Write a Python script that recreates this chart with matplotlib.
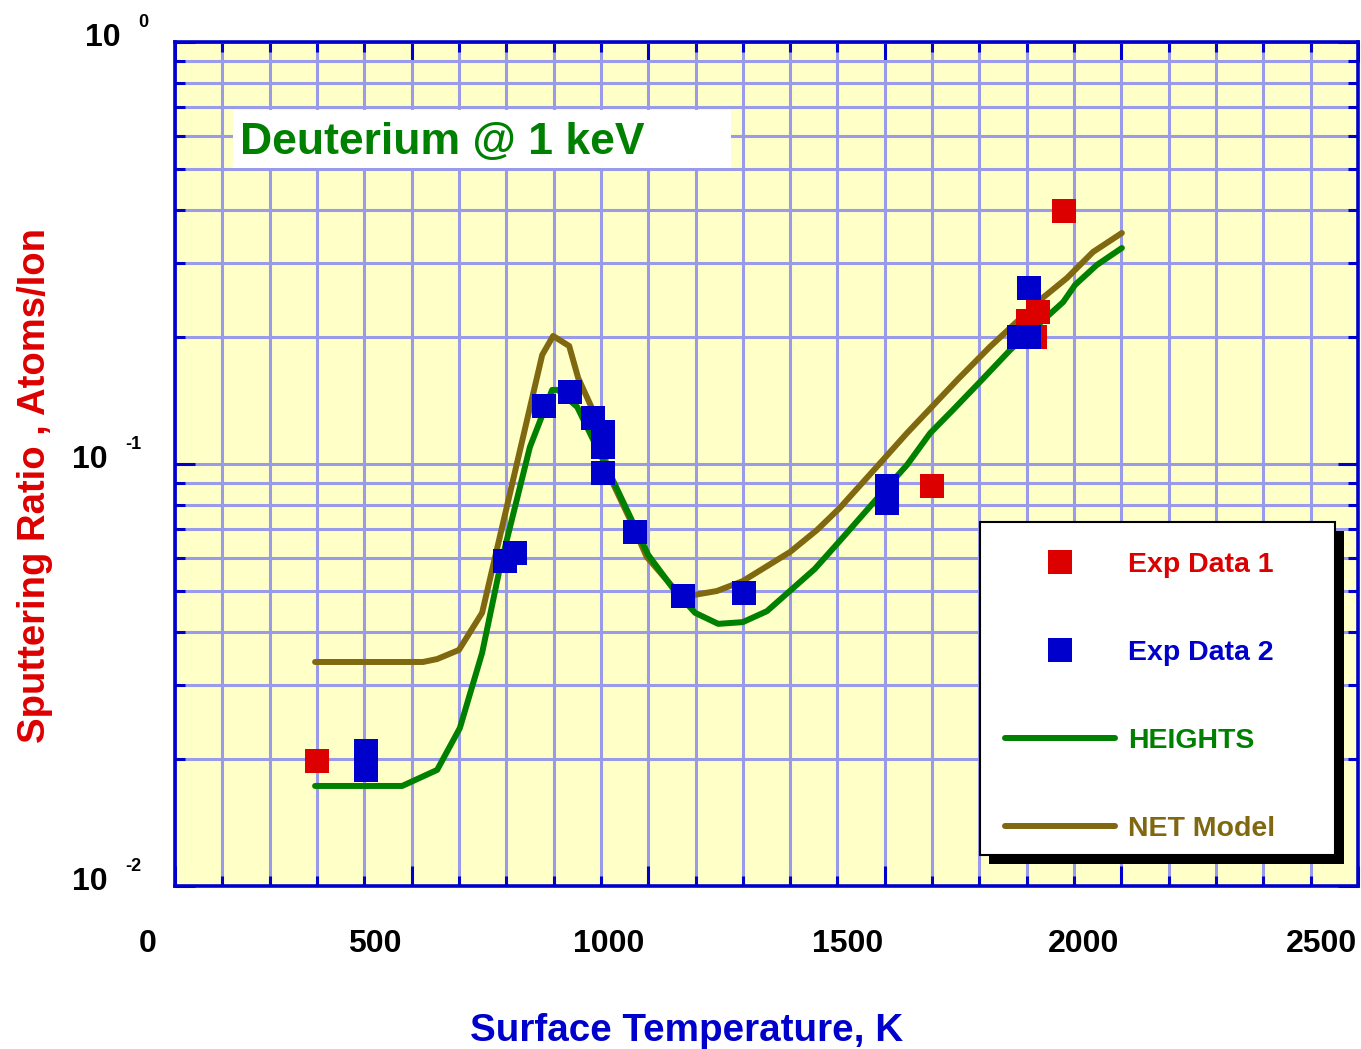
import numpy as np
import matplotlib
matplotlib.use('Agg')
import matplotlib.pyplot as plt
from matplotlib.ticker import MultipleLocator, LogLocator, NullFormatter
from matplotlib.transforms import blended_transform_factory, ScaledTranslation
from matplotlib.patches import Rectangle

# --- data ---
# HEIGHTS model curve
hgt_T = [296, 480, 554, 602, 649, 687, 750, 797, 809, 850, 926, 1000, 1052, 1099,
         1148, 1200, 1251, 1352, 1412, 1490, 1547, 1596, 1644, 1705, 1765, 1877,
         1902, 1948, 2001]
hgt_Y = [0.01726, 0.01726, 0.01884, 0.02368, 0.03566, 0.05701, 0.1097, 0.1498,
         0.1498, 0.1365, 0.0912, 0.0609, 0.0508, 0.0444, 0.0418, 0.0422, 0.0448,
         0.0564, 0.0671, 0.0844, 0.0995, 0.1184, 0.1343, 0.1582, 0.1863, 0.2420,
         0.2656, 0.2962, 0.3250]
# NET model curve
net_T = [296, 524, 554, 600, 649, 776, 799, 833, 852, 881, 919, 962, 997, 1052,
         1095, 1145, 1200, 1300, 1357, 1405, 1496, 1547, 1655, 1722, 1828, 1885,
         1940, 2001]
net_Y = [0.03395, 0.03395, 0.0345, 0.03625, 0.0444, 0.1813, 0.2011, 0.1904,
         0.1599, 0.1357, 0.0932, 0.0737, 0.0602, 0.0511, 0.0489, 0.0500, 0.0528,
         0.0619, 0.0698, 0.0787, 0.1022, 0.1184, 0.1590, 0.1894, 0.2446, 0.2759,
         0.3180, 0.3527]
# experimental data
exp1_T = [300, 1600, 1879, 1824, 1803, 1817]
exp1_Y = [0.0198, 0.0887, 0.398, 0.229, 0.218, 0.200]
exp2_T = [404, 404, 697, 719, 780, 835, 883, 904, 904, 904, 972, 1074, 1202,
          1505, 1505, 1805, 1784, 1805]
exp2_Y = [0.0209, 0.01884, 0.0589, 0.0615, 0.1372, 0.1481, 0.1285, 0.1191,
          0.1097, 0.0952, 0.0690, 0.0487, 0.0495, 0.0887, 0.0808, 0.2613,
          0.200, 0.200]

xticks = [0, 500, 1000, 1500, 2000, 2500]
xtick_labels = ['0', '500', '1000', '1500', '2000', '2500']
ydecades = [0.01, 0.1, 1]
yexps = ['-2', '-1', '0']

RED = '#dd0000'
BLUE = '#0000cc'
GREEN = '#008000'
OLIVE = '#806810'
GRIDC = '#9a9aea'

plt.rcParams['font.family'] = ['Liberation Sans', 'DejaVu Sans']
plt.rcParams['font.weight'] = 'bold'

W, H = 1361, 1049
fig = plt.figure(figsize=(W / 100, H / 100), dpi=100)
ax = fig.add_axes([175 / W, 1 - 886 / H, 1183 / W, 844 / H])
ax.set_facecolor('#ffffc8')

ax.set_xlim(0, 2500)
ax.set_yscale('log')
ax.set_ylim(0.01, 1)
ax.set_xticks(xticks, labels=xtick_labels, fontsize=23, fontweight='bold', ha='right')
ax.xaxis.set_minor_locator(MultipleLocator(100))
ax.yaxis.set_major_locator(LogLocator(base=10))
ax.yaxis.set_minor_locator(LogLocator(base=10, subs=np.arange(2, 10)))
ax.yaxis.set_major_formatter(NullFormatter())
ax.yaxis.set_minor_formatter(NullFormatter())

ax.grid(True, which='both', color=GRIDC, lw=2.2)
ax.set_axisbelow(True)
for sp in ax.spines.values():
    sp.set_color(BLUE)
    sp.set_linewidth(2.6)
ax.tick_params(which='both', direction='in', top=True, right=True, color=BLUE, width=2.2)
ax.tick_params(which='major', length=14.5)
ax.tick_params(which='minor', length=7.5)
ax.tick_params(axis='x', which='major', pad=31, labelcolor='black')

# the old labels sit a bit left of their ticks
xlab_dx = [-18, -10, -4, -2, -2, -1]
for tk, dx in zip(ax.xaxis.get_major_ticks(), xlab_dx):
    tk.label1.set_transform(tk.label1.get_transform() +
                            ScaledTranslation(dx / 100, 0, fig.dpi_scale_trans))

# curves and data
ln_net, = ax.plot(net_T, net_Y, color=OLIVE, lw=4.3, solid_capstyle='round',
                  solid_joinstyle='round', label='NET Model', zorder=3)
ln_hgt, = ax.plot(hgt_T, hgt_Y, color=GREEN, lw=4.3, solid_capstyle='round',
                  solid_joinstyle='round', label='HEIGHTS', zorder=3)
mk1, = ax.plot(exp1_T, exp1_Y, 's', color=RED, ms=17, mew=0, label='Exp Data 1', zorder=4)
mk2, = ax.plot(exp2_T, exp2_Y, 's', color=BLUE, ms=17, mew=0, label='Exp Data 2', zorder=4)

# y tick labels like "10 -1"
tr = blended_transform_factory(ax.transAxes, ax.transData)
label_dx = [-67, -67, -54]
for v, e, dx in zip(ydecades, yexps, label_dx):
    ax.text(0, v, '10', transform=tr + ScaledTranslation(dx / 100, -0.04, fig.dpi_scale_trans),
            ha='right', va='baseline', fontsize=23, fontweight='bold', color='black')
    ax.text(0, v, e, transform=tr + ScaledTranslation((dx + 17) / 100, 0.15, fig.dpi_scale_trans),
            ha='left', va='baseline', fontsize=13, fontweight='bold', color='black')

# title box
ax.add_patch(Rectangle((0.049, 0.8507), 0.421, 0.0687, transform=ax.transAxes,
                       fc='white', ec='none', zorder=4))
ax.text(0.055, 0.881, 'Deuterium @ 1 keV', transform=ax.transAxes, ha='left', va='center',
        color=GREEN, fontsize=32, fontweight='bold', zorder=5)

# legend with shadowed box
bx, by, bw, bh = 0.6805, 0.0367, 0.3001, 0.3946
ax.add_patch(Rectangle((bx + 9 / 1183, by - 9 / 844), bw, bh, transform=ax.transAxes,
                       fc='black', ec='none', zorder=5))
ax.add_patch(Rectangle((bx, by), bw, bh, transform=ax.transAxes,
                       fc='white', ec='black', lw=1.5, zorder=6))
leg = ax.legend(handles=[mk1, mk2, ln_hgt, ln_net], loc='upper left',
                bbox_to_anchor=(bx - 5 / 1183, by + bh), frameon=False,
                prop=dict(family='Liberation Sans', weight='bold', size=20.5),
                labelcolor='linecolor', handlelength=3.86, handletextpad=0.46,
                labelspacing=2.18, borderpad=1.05, borderaxespad=0, numpoints=1)
leg.set_zorder(7)

ax.set_xlabel('Surface Temperature, K', color=BLUE, fontsize=27.8, fontweight='bold')
ax.xaxis.set_label_coords(0.4328, -0.150)
ax.set_ylabel('Sputtering Ratio , Atoms/Ion', color=RED, fontsize=27.5, fontweight='bold')
ax.yaxis.set_label_coords(-0.103, 0.475)

fig.savefig('out.png', dpi=100)
